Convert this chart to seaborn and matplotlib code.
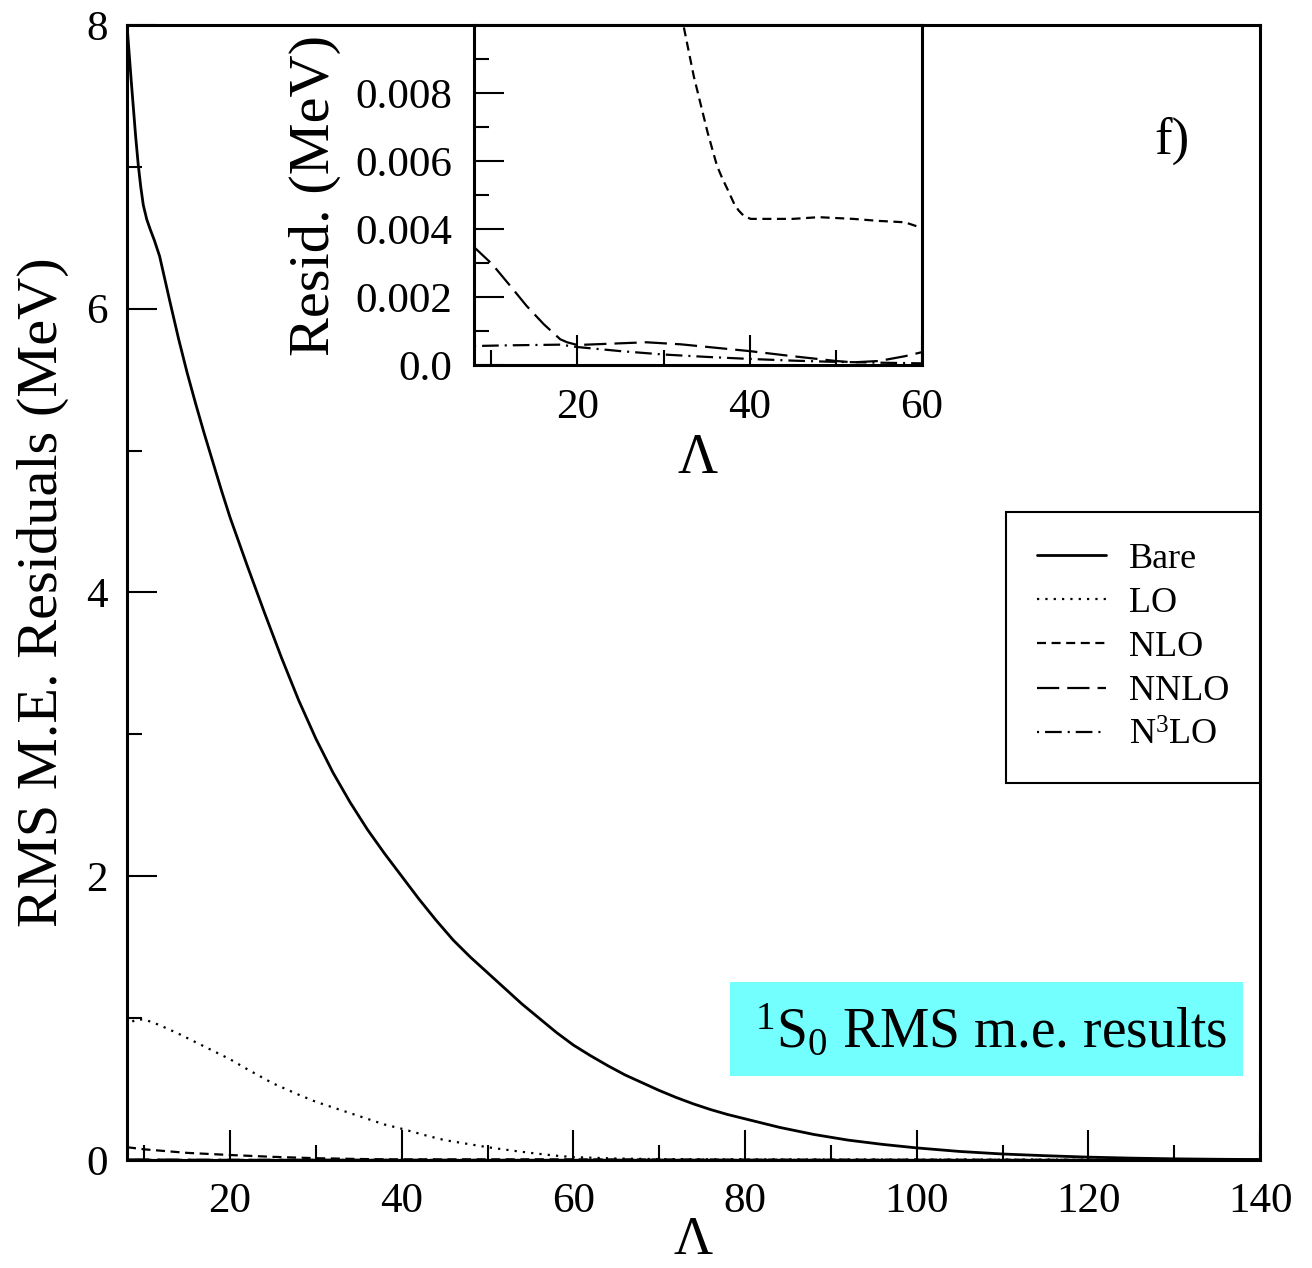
import matplotlib
matplotlib.use("Agg")
import matplotlib.pyplot as plt
import seaborn as sns
from matplotlib.patches import Rectangle

# Cutoff values (Lambda) and RMS matrix-element residuals (MeV) per order
lam_bare = [8, 8.5, 9, 9.3, 9.6, 9.9, 10.3, 10.7, 11.2, 11.8, 12.4, 13, 14,
            15, 16, 17, 18, 19, 20, 21, 22, 24, 26, 28, 30, 32, 34, 36, 38,
            40, 42, 44, 46, 48, 50, 52, 54, 56, 58, 60, 62, 64, 66, 68, 70,
            72, 74, 76, 78, 80, 84, 88, 92, 96, 100, 105, 110, 115, 120, 125,
            130, 135, 140]
rms_bare = [8.00, 7.60, 7.22, 7.02, 6.86, 6.73, 6.63, 6.56, 6.48, 6.37, 6.21,
            6.05, 5.79, 5.55, 5.33, 5.12, 4.92, 4.72, 4.53, 4.36, 4.19, 3.86,
            3.54, 3.24, 2.97, 2.73, 2.52, 2.33, 2.16, 2.00, 1.84, 1.69, 1.55,
            1.43, 1.32, 1.21, 1.10, 1.00, 0.90, 0.81, 0.735, 0.665, 0.60,
            0.545, 0.49, 0.44, 0.395, 0.355, 0.32, 0.29, 0.23, 0.18, 0.14,
            0.11, 0.085, 0.06, 0.042, 0.03, 0.02, 0.013, 0.008, 0.005, 0.003]

lam_lo = [8, 8.5, 9, 10, 11, 12, 14, 16, 18, 20, 22, 25, 28, 30, 33, 35, 38,
          40, 43, 45, 48, 50, 53, 55, 58, 60, 65, 70, 80, 100, 120, 140]
rms_lo = [0.93, 0.97, 0.99, 0.99, 0.97, 0.945, 0.89, 0.83, 0.77, 0.71, 0.64,
          0.54, 0.46, 0.41, 0.35, 0.31, 0.25, 0.22, 0.17, 0.14, 0.11, 0.09,
          0.065, 0.05, 0.03, 0.02, 0.01, 0.006, 0.004, 0.003, 0.002, 0.001]

lam_nlo = [8, 10, 15, 20, 25, 30, 32.3, 33.5, 35.1, 36.2, 36.8, 37.4, 38.2,
           38.7, 39.3, 40.1, 45, 48, 52, 55, 58, 60, 70, 80, 100, 120, 140]
rms_nlo = [0.09, 0.075, 0.05, 0.035, 0.022, 0.0125, 0.0100, 0.0085, 0.00685,
           0.00586, 0.0055, 0.00518, 0.00474, 0.00455, 0.00439, 0.0043,
           0.0043, 0.00435, 0.0043, 0.00424, 0.0042, 0.00403, 0.003, 0.002,
           0.001, 0.0005, 0.0003]

lam_nnlo = [8, 10.1, 12.2, 14.1, 16.1, 18, 18.8, 20, 24, 28, 32, 36, 40, 45,
            50, 52, 55, 58, 60, 70, 80, 100, 120, 140]
rms_nnlo = [0.00347, 0.00297, 0.00233, 0.00174, 0.00120, 0.00076, 0.00067,
            0.00059, 0.00063, 0.00067, 0.00061, 0.00051, 0.00041, 0.00026,
            0.00012, 0.00008, 0.00012, 0.00026, 0.00038, 0.0006, 0.0004,
            0.0002, 0.0001, 0.0001]

lam_n3lo = [8, 12, 18, 20, 25, 30, 35, 40, 45, 49, 55, 60, 80, 100, 140]
rms_n3lo = [0.00056, 0.00058, 0.00060, 0.00053, 0.00041, 0.00031, 0.00024,
            0.00018, 0.00013, 0.00010, 0.00007, 0.00005, 0.00003, 0.00002,
            0.00001]

labels = ["Bare", "LO", "NLO", "NNLO", r"N$^3$LO"]

sns.set_theme(style="ticks")
plt.rcParams.update({
    "font.family": ["Liberation Serif", "DejaVu Serif"],
    "mathtext.fontset": "custom",
    "mathtext.rm": "Liberation Serif",
    "mathtext.it": "Liberation Serif:italic",
    "mathtext.bf": "Liberation Serif:bold",
    "lines.scale_dashes": False,
    "axes.linewidth": 2.2,
    "axes.edgecolor": "black",
    "xtick.color": "black",
    "ytick.color": "black",
    "text.color": "black",
    "axes.labelcolor": "black",
})

styles = [
    dict(linestyle="-", lw=2.0),
    dict(linestyle=(0, (1.6, 4.4)), lw=1.6),
    dict(linestyle=(0, (6.5, 4.0)), lw=1.6),
    dict(linestyle=(0, (16, 5.8)), lw=1.6),
    dict(linestyle=(0, (1.5, 4.3, 12, 4.3)), lw=1.6),
]
series = [(lam_bare, rms_bare), (lam_lo, rms_lo), (lam_nlo, rms_nlo),
          (lam_nnlo, rms_nnlo), (lam_n3lo, rms_n3lo)]

fig = plt.figure(figsize=(13.12, 12.68), dpi=100)
ax = fig.add_axes([0.0968, 0.0852, 0.8636, 0.8951])

for (xs, ys), st, lab in zip(series, styles, labels):
    sns.lineplot(x=xs, y=ys, ax=ax, color="black", label=lab, **st)

ax.set_xlim(8, 140)
ax.set_ylim(0, 8)
ax.set_xticks([20, 40, 60, 80, 100, 120, 140])
ax.set_xticks(range(10, 140, 20), minor=True)
ax.set_yticks([0, 2, 4, 6, 8])
ax.set_yticks([1, 3, 5, 7], minor=True)
ax.tick_params(which="both", direction="in", width=1.5, top=False, right=False)
ax.tick_params(which="major", length=21.6)
ax.tick_params(which="minor", length=10.8)
ax.tick_params(axis="x", which="major", labelsize=31, pad=16)
ax.tick_params(axis="y", which="major", labelsize=31, pad=14)
ax.set_xlabel("Λ", fontsize=39, labelpad=-4)
ax.set_ylabel("RMS M.E. Residuals (MeV)", fontsize=42, labelpad=12)

handles = ax.get_lines()[:5]
leg = ax.legend(handles, labels, loc="upper right",
                bbox_to_anchor=(1.0, 0.571), bbox_transform=ax.transAxes,
                frameon=True, fancybox=False, edgecolor="black", framealpha=1,
                fontsize=26, handlelength=1.9, handletextpad=0.65,
                labelspacing=0.3, borderpad=0.85, borderaxespad=0)
leg.get_frame().set_linewidth(1.5)

ax.text(0.922, 0.887, "f)", transform=ax.transAxes, ha="center",
        va="baseline", fontsize=38)

ax.add_patch(Rectangle((0.532, 0.074), 0.453, 0.083, transform=ax.transAxes,
                       facecolor="#74FFFF", edgecolor="none", zorder=3))
ax.text(0.7626, 0.0996, r"$^{1}$S$_{0}$ RMS m.e. results",
        transform=ax.transAxes, ha="center", va="baseline", fontsize=40,
        zorder=4)

# Zoomed view of the higher orders
axin = fig.add_axes([0.3613, 0.7121, 0.3415, 0.2681])
axin.set_facecolor("white")
for (xs, ys), st in zip(series, styles):
    sns.lineplot(x=xs, y=ys, ax=axin, color="black", **st)
axin.set_xlim(8, 60)
axin.set_ylim(0, 0.01)
axin.set_xticks([20, 40, 60])
axin.set_xticks([10, 30, 50], minor=True)
axin.set_yticks([0, 0.002, 0.004, 0.006, 0.008])
axin.set_yticklabels(["0.0", "0.002", "0.004", "0.006", "0.008"])
axin.set_yticks([0.001, 0.003, 0.005, 0.007, 0.009], minor=True)
axin.tick_params(which="both", direction="in", width=1.5, top=False, right=False)
axin.tick_params(which="major", length=21.6)
axin.tick_params(which="minor", length=10.8)
axin.tick_params(axis="x", which="major", labelsize=31, pad=17)
axin.tick_params(axis="y", which="major", labelsize=31, pad=16)
axin.set_xlabel("Λ", fontsize=40, labelpad=4)
axin.set_ylabel("Resid. (MeV)", fontsize=42, labelpad=10)
if axin.get_legend() is not None:
    axin.get_legend().remove()

fig.savefig("out.png", dpi=100)
